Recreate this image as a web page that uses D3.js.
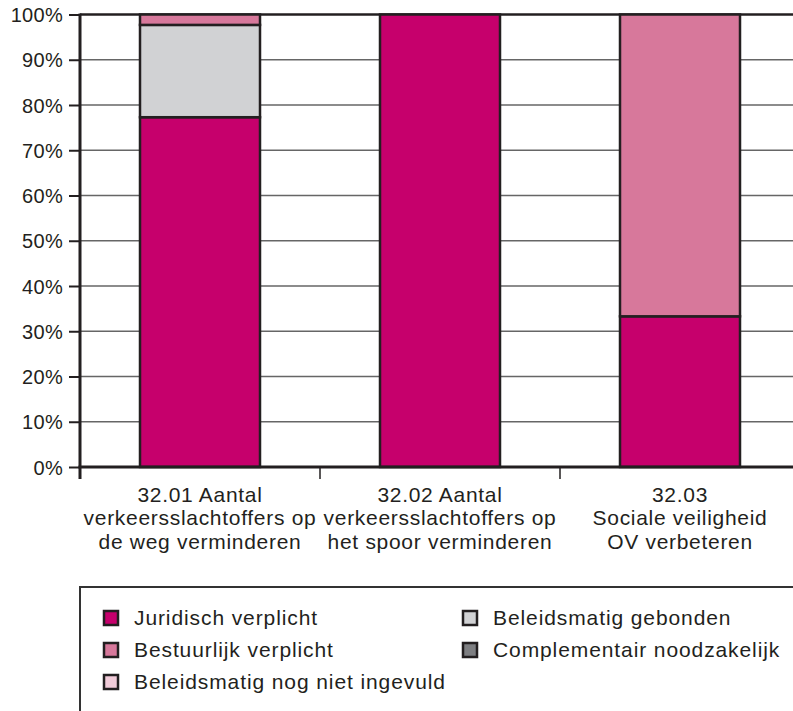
<!DOCTYPE html>
<html>
<head>
<meta charset="utf-8">
<script src="https://cdn.jsdelivr.net/npm/d3@7"></script>
<style>
  html, body { margin: 0; padding: 0; background: #fff; }
  svg { display: block; }
  text { font-family: "Liberation Sans", Arial, sans-serif; fill: #231f20; }
</style>
</head>
<body>
<svg id="chart" width="793" height="711"></svg>
<script>
// ---- data ----
const categories = ["32.01", "32.02", "32.03"];
const categoryLabels = [
  ["32.01 Aantal", "verkeersslachtoffers op", "de weg verminderen"],
  ["32.02 Aantal", "verkeersslachtoffers op", "het spoor verminderen"],
  ["32.03", "Sociale veiligheid", "OV verbeteren"]
];
const seriesNames = ["Juridisch verplicht", "Beleidsmatig gebonden", "Bestuurlijk verplicht", "Complementair noodzakelijk", "Beleidsmatig nog niet ingevuld"];
const juridisch = [77.3, 100, 33.3];
const gebonden = [20.4, 0, 0];
const bestuurlijk = [2.3, 0, 66.7];
const complementair = [0, 0, 0];
const nogNiet = [0, 0, 0];
const yTicks = [0, 10, 20, 30, 40, 50, 60, 70, 80, 90, 100];
const seriesColors = ["#c6006c", "#d1d2d4", "#d7789b", "#7e7f82", "#f1cbd9"];

const seriesValues = [juridisch, gebonden, bestuurlijk, complementair, nogNiet];
const keys = seriesNames;
const table = categories.map((c, i) => {
  const row = { cat: c };
  keys.forEach((k, j) => row[k] = seriesValues[j][i]);
  return row;
});

const svg = d3.select("#chart");
const pLeft = 80, pRight = 800, pTop = 14.5, pBottom = 467;
const x = d3.scaleBand().domain(categories).range([pLeft, pRight]).paddingInner(0.5).paddingOuter(0.25);
const y = d3.scaleLinear().domain([0, 100]).range([pBottom, pTop]);
const color = d3.scaleOrdinal().domain(keys).range(seriesColors);
const dark = "#231f20";

// gridlines
svg.append("g").selectAll("line").data(yTicks.filter(t => t > 0 && t < 100)).join("line")
  .attr("x1", pLeft).attr("x2", 793).attr("y1", d => y(d)).attr("y2", d => y(d))
  .attr("stroke", "#666").attr("stroke-width", 1.5);
// top line (100%)
svg.append("line").attr("x1", pLeft).attr("x2", 793).attr("y1", y(100)).attr("y2", y(100))
  .attr("stroke", dark).attr("stroke-width", 2.5);

// bars
const stack = d3.stack().keys(keys)(table);
svg.append("g").selectAll("g").data(stack).join("g")
  .attr("fill", d => color(d.key))
  .selectAll("rect").data(d => d.filter(s => s[1] - s[0] > 0)).join("rect")
  .attr("x", d => x(d.data.cat))
  .attr("width", x.bandwidth())
  .attr("y", d => y(d[1]))
  .attr("height", d => y(d[0]) - y(d[1]))
  .attr("stroke", dark).attr("stroke-width", 2.5);

// y axis
const yAxis = d3.axisLeft(y).tickValues(yTicks).tickFormat(d => d + "%").tickSize(11).tickPadding(6);
const gy = svg.append("g").attr("transform", `translate(${pLeft},0)`).call(yAxis);
gy.select(".domain").remove();
gy.selectAll(".tick line").attr("stroke", dark).attr("stroke-width", 2);
gy.selectAll(".tick text").attr("font-size", 20).attr("letter-spacing", 0.3)
  .attr("font-family", "Liberation Sans, Arial, sans-serif")
  .attr("fill", dark).attr("dy", "0.36em");
svg.append("line").attr("x1", pLeft).attr("x2", pLeft).attr("y1", pTop - 1).attr("y2", 479)
  .attr("stroke", dark).attr("stroke-width", 3);

// x baseline
svg.append("line").attr("x1", pLeft - 1.5).attr("x2", 793).attr("y1", pBottom).attr("y2", pBottom)
  .attr("stroke", dark).attr("stroke-width", 3);
// x boundary ticks
const bounds = categories.map(c => x(c) - x.step() * x.paddingInner() / 2).slice(1);
svg.append("g").selectAll("line").data(bounds).join("line")
  .attr("x1", d => d).attr("x2", d => d).attr("y1", pBottom).attr("y2", 479)
  .attr("stroke", dark).attr("stroke-width", 1.5);

// category labels
svg.append("g").selectAll("text").data(categories).join("text")
  .attr("x", d => x(d) + x.bandwidth() / 2)
  .attr("y", 502)
  .attr("text-anchor", "middle")
  .attr("font-size", 21).attr("letter-spacing", 0.7)
  .selectAll("tspan").data((d, i) => categoryLabels[i]).join("tspan")
  .attr("x", function() { return this.parentNode.getAttribute("x"); })
  .attr("dy", (d, i) => i === 0 ? 0 : 23.3)
  .text(d => d);

// legend
svg.append("rect").attr("x", 80).attr("y", 587).attr("width", 760).attr("height", 200)
  .attr("fill", "none").attr("stroke", "#333").attr("stroke-width", 2);
const legCols = [103, 462], legRows = [618, 650, 682];
const leg = svg.append("g").selectAll("g").data(keys).join("g")
  .attr("transform", (d, i) => `translate(${legCols[i % 2]},${legRows[Math.floor(i / 2)]})`);
leg.append("rect").attr("x", 1).attr("y", -7).attr("width", 14).attr("height", 14)
  .attr("fill", d => color(d)).attr("stroke", dark).attr("stroke-width", 2.5);
leg.append("text").attr("x", 31).attr("y", 0).attr("dy", "0.35em")
  .attr("font-size", 21).attr("letter-spacing", 0.9).text(d => d);
</script>
</body>
</html>
